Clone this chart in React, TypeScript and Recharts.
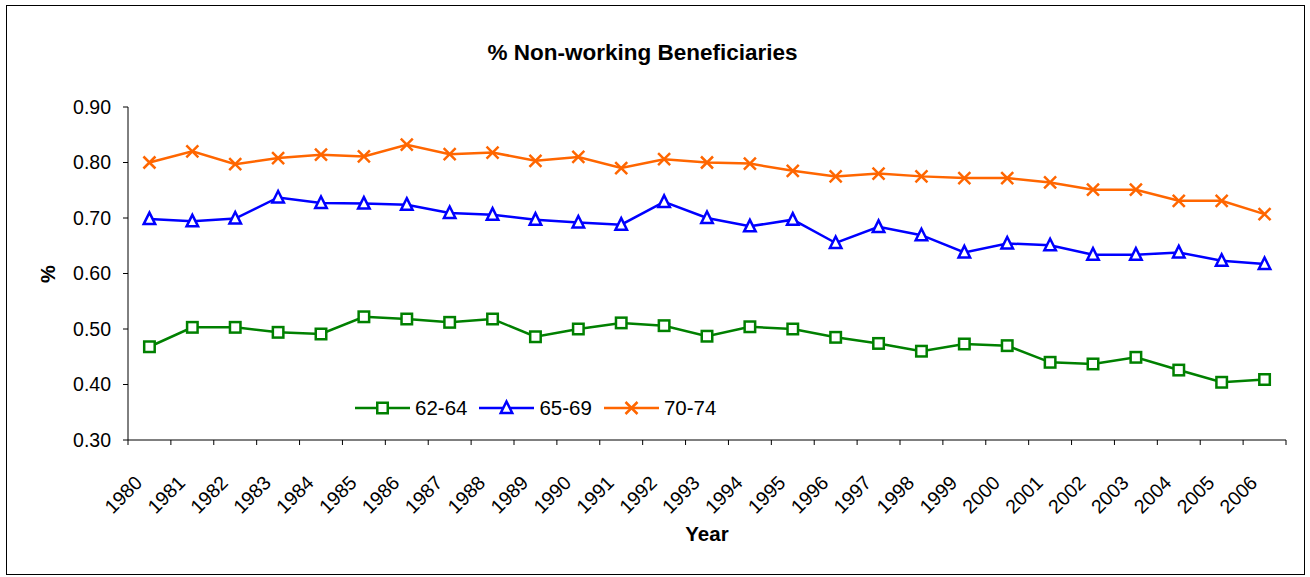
import React from 'react';
import { LineChart, Line, XAxis, YAxis } from 'recharts';

// Calendar years shown along the horizontal axis
const years = [
  '1980', '1981', '1982', '1983', '1984', '1985', '1986', '1987', '1988',
  '1989', '1990', '1991', '1992', '1993', '1994', '1995', '1996', '1997',
  '1998', '1999', '2000', '2001', '2002', '2003', '2004', '2005', '2006',
];

// Share of beneficiaries not working, by age group
const age62to64 = [
  0.468, 0.503, 0.503, 0.494, 0.491, 0.522, 0.518, 0.512, 0.518,
  0.486, 0.500, 0.511, 0.506, 0.487, 0.504, 0.500, 0.485, 0.474,
  0.460, 0.473, 0.470, 0.440, 0.437, 0.449, 0.426, 0.404, 0.409,
];
const age65to69 = [
  0.698, 0.694, 0.699, 0.737, 0.727, 0.726, 0.724, 0.709, 0.706,
  0.697, 0.692, 0.688, 0.729, 0.700, 0.685, 0.697, 0.655, 0.684,
  0.669, 0.638, 0.654, 0.651, 0.634, 0.634, 0.638, 0.623, 0.617,
];
const age70to74 = [
  0.800, 0.820, 0.797, 0.808, 0.814, 0.811, 0.832, 0.815, 0.818,
  0.803, 0.810, 0.790, 0.806, 0.800, 0.798, 0.785, 0.775, 0.780,
  0.775, 0.772, 0.772, 0.764, 0.751, 0.751, 0.731, 0.731, 0.707,
];

const yTicks = [0.3, 0.4, 0.5, 0.6, 0.7, 0.8, 0.9];

type Shape = 'square' | 'triangle' | 'cross';

const series: { key: string; name: string; color: string; shape: Shape; values: number[] }[] = [
  { key: 'g1', name: '62-64', color: '#008000', shape: 'square', values: age62to64 },
  { key: 'g2', name: '65-69', color: '#0000FF', shape: 'triangle', values: age65to69 },
  { key: 'g3', name: '70-74', color: '#FF6600', shape: 'cross', values: age70to74 },
];

const rows = years.map((year, i) => {
  const row: Record<string, number | string> = { pos: i + 0.5, year };
  series.forEach((s) => {
    row[s.key] = s.values[i];
  });
  return row;
});

const FONT = '"Liberation Sans", Arial, Helvetica, sans-serif';
const CHART_W = 1310;
const CHART_H = 577;
const MARGIN = { top: 107, right: 24, bottom: 57, left: 68 };
const YAXIS_W = 60;
const XAXIS_H = 80;
const PLOT_W = CHART_W - MARGIN.left - MARGIN.right - YAXIS_W;
const HALF_BAND = PLOT_W / years.length / 2;
const boundaryTicks = years.map((_, i) => i).concat(years.length);
const LINE_W = 2.5;
const MARK_W = 2.5;

function Marker({ cx, cy, color, shape }: { cx: number; cy: number; color: string; shape: Shape }) {
  if (shape === 'square') {
    return (
      <rect x={cx - 5.25} y={cy - 5.25} width={10.5} height={10.5} fill="#fff" stroke={color} strokeWidth={MARK_W} />
    );
  }
  if (shape === 'triangle') {
    return (
      <path
        d={`M${cx},${cy - 6.5} L${cx + 5.75},${cy + 5} L${cx - 5.75},${cy + 5} Z`}
        fill="#fff"
        stroke={color}
        strokeWidth={MARK_W}
        strokeLinejoin="miter"
      />
    );
  }
  return (
    <path
      d={`M${cx - 6},${cy - 6} L${cx + 6},${cy + 6} M${cx + 6},${cy - 6} L${cx - 6},${cy + 6}`}
      fill="none"
      stroke={color}
      strokeWidth={MARK_W}
    />
  );
}

function YearTick(props: any) {
  const { x, y, payload } = props;
  const i = payload.value as number;
  if (i >= years.length) return <g />;
  const tx = x + HALF_BAND - 6;
  const ty = y + 37;
  return (
    <text
      x={tx}
      y={ty}
      textAnchor="end"
      fontFamily={FONT}
      fontSize={19.5}
      fill="#000"
      transform={`rotate(-45, ${tx}, ${ty})`}
    >
      {years[i]}
    </text>
  );
}

export default function App() {
  return (
    <div style={{ position: 'absolute', left: 0, top: 0, width: CHART_W, height: CHART_H, background: '#fff' }}>
      <div
        style={{
          position: 'absolute',
          left: 6,
          top: 5,
          width: 1299,
          height: 570,
          border: '1px solid #000',
          boxSizing: 'border-box',
        }}
      />
      <div
        style={{
          position: 'absolute',
          left: 0,
          top: 41,
          width: 1285,
          textAlign: 'center',
          fontFamily: FONT,
          fontWeight: 'bold',
          fontSize: 22.5,
          lineHeight: '24px',
          color: '#000',
        }}
      >
        % Non-working Beneficiaries
      </div>
      <div
        style={{
          position: 'absolute',
          left: 607,
          top: 522,
          width: 200,
          textAlign: 'center',
          fontFamily: FONT,
          fontWeight: 'bold',
          fontSize: 20.5,
          lineHeight: '24px',
          color: '#000',
        }}
      >
        Year
      </div>
      <div
        style={{
          position: 'absolute',
          left: 48 - 50,
          top: 274 - 12,
          width: 100,
          textAlign: 'center',
          fontFamily: FONT,
          fontWeight: 'bold',
          fontSize: 20,
          lineHeight: '24px',
          color: '#000',
          transform: 'rotate(-90deg)',
        }}
      >
        %
      </div>
      <div style={{ position: 'absolute', left: 0, top: 0 }}>
        <LineChart width={CHART_W} height={CHART_H} data={rows} margin={MARGIN}>
          <XAxis
            dataKey="pos"
            type="number"
            domain={[0, years.length]}
            ticks={boundaryTicks}
            interval={0}
            height={XAXIS_H}
            tickSize={5}
            tickMargin={2}
            axisLine={{ stroke: '#000' }}
            tickLine={{ stroke: '#000' }}
            tick={<YearTick />}
          />
          <YAxis
            type="number"
            domain={[0.3, 0.9]}
            ticks={yTicks}
            interval={0}
            width={YAXIS_W}
            tickSize={5}
            tickMargin={12}
            axisLine={{ stroke: '#000' }}
            tickLine={{ stroke: '#000' }}
            tickFormatter={(v: number) => v.toFixed(2)}
            tick={{ fontFamily: FONT, fontSize: 19.5, fill: '#000' }}
          />
          {series.map((s) => (
            <Line
              key={s.key}
              dataKey={s.key}
              name={s.name}
              type="linear"
              stroke={s.color}
              strokeWidth={LINE_W}
              isAnimationActive={false}
              dot={(p: any) => (
                <Marker key={`${s.key}-${p.index}`} cx={p.cx} cy={p.cy} color={s.color} shape={s.shape} />
              )}
              activeDot={false}
            />
          ))}
        </LineChart>
      </div>
      <div
        style={{
          position: 'absolute',
          left: 355,
          top: 396,
          height: 24,
          display: 'flex',
          alignItems: 'center',
          fontFamily: FONT,
          fontSize: 20.5,
          color: '#000',
        }}
      >
        {series.map((s) => (
          <div key={s.key} style={{ display: 'flex', alignItems: 'center', marginRight: 12 }}>
            <svg width={55} height={20} style={{ display: 'block' }}>
              <line x1={0} y1={10} x2={55} y2={10} stroke={s.color} strokeWidth={LINE_W} />
              <Marker cx={27.5} cy={10} color={s.color} shape={s.shape} />
            </svg>
            <span style={{ marginLeft: 5, lineHeight: '24px' }}>{s.name}</span>
          </div>
        ))}
      </div>
    </div>
  );
}
